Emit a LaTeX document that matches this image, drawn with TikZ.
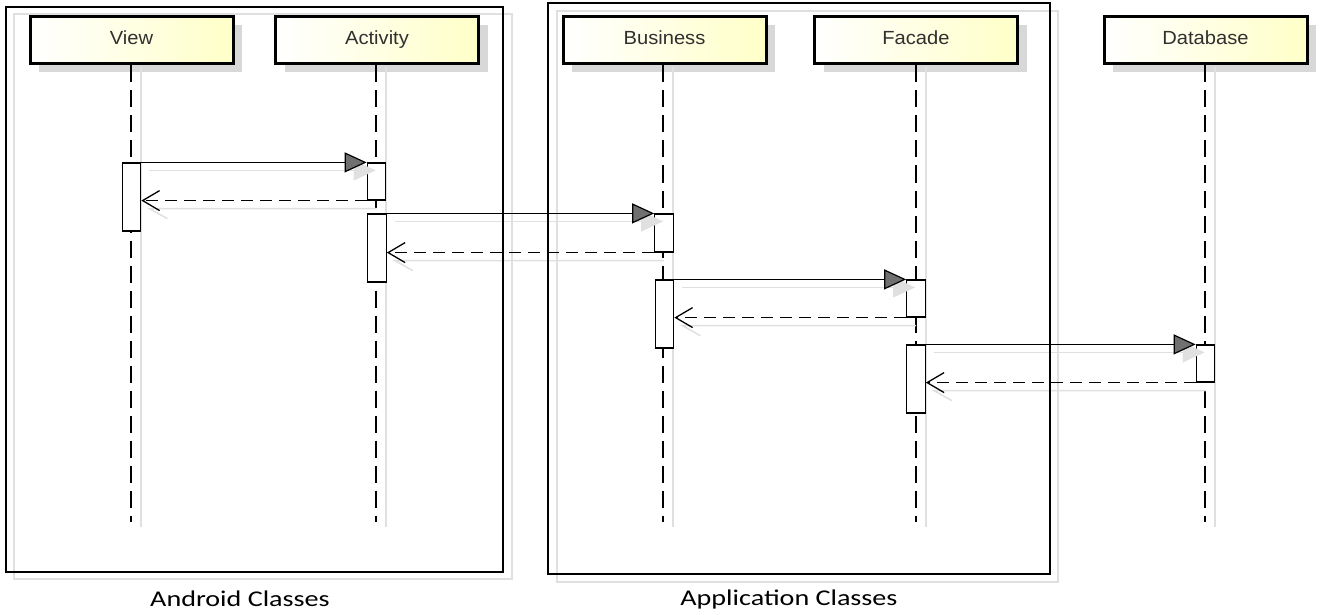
\documentclass[tikz,border=0pt]{standalone}
\usepackage{fontspec}
\newfontfamily\headfont[FakeStretch=1.06]{Liberation Sans}
\newfontfamily\labfont[FakeStretch=1.25]{Carlito}
\usetikzlibrary{arrows.meta,shadows}
\definecolor{headyellow}{RGB}{255,255,200}
\definecolor{textgray}{RGB}{48,48,48}
\definecolor{shgray}{RGB}{224,224,224}
\definecolor{headsh}{RGB}{216,216,216}
\definecolor{tipgray}{RGB}{112,112,112}
\begin{document}
\begin{tikzpicture}[x=1pt,y=-1pt,
  head/.style={draw=black, line width=3pt, minimum width=203pt, minimum height=47pt, inner sep=0pt,
    left color=white, right color=headyellow, text=textgray, text height=14pt, text depth=5pt,
    font=\headfont\fontsize{19}{19}\selectfont,
    drop shadow={shadow xshift=9pt, shadow yshift=-8pt, fill=headsh, opacity=1}},
  life/.style={line width=1.6pt, dash pattern=on 17pt off 8pt},
  lifesh/.style={line width=1.5pt, draw=shgray},
  actbox/.style={draw=black, fill=white, line width=1.2pt, minimum width=18.5pt, inner sep=0pt},
  call/.style={line width=1.3pt, -{Triangle[length=22pt,width=20pt,fill=tipgray,line width=1.2pt]}},
  ret/.style={line width=1.3pt, dash pattern=on 12pt off 7pt, -{Straight Barb[length=17pt,width=20pt,line width=1.3pt]}},
  msgsh/.style={line width=1.5pt, draw=shgray},
  callsh/.style={line width=1.5pt, draw=shgray, -{Triangle[length=22pt,width=20pt,color=shgray,fill=shgray]}},
  frame/.style={draw=black, line width=1.3pt},
  framesh/.style={draw=shgray, line width=1.5pt},
  lab/.style={font=\labfont\fontsize{22.5}{22.5}\selectfont, text=black}
]
\useasboundingbox (0,0) rectangle (1320,615);

% frame shadows
\draw[framesh] (14,14) rectangle (512,579);
\draw[framesh] (557,11) rectangle (1058,582);

% headers
\node[head] (v) at (131.5,40.5) {View};
\node[head] (a) at (377,40.5) {Activity};
\node[head] (b) at (664.5,40.5) {Business};
\node[head] (f) at (916,40.5) {Facade};
\node[head] (d) at (1205.5,40.5) {Database};

% lifeline ends
\coordinate (vend) at (131,522);
\coordinate (aend) at (376,522);
\coordinate (bend) at (663,522);
\coordinate (fend) at (916,522);
\coordinate (dend) at (1205,522);

% lifeline shadows
\foreach \n in {v,a,b,f,d}{
  \draw[lifesh] ([xshift=10pt,yshift=-2pt]\n.south -| \n end) -- ([xshift=10pt,yshift=-5pt]\n end);
}
% lifelines
\foreach \n in {v,a,b,f,d}{
  \draw[life] (\n.south -| \n end) -- (\n end);
}

% activations
\node[actbox, minimum height=68pt] (vact) at (131.5,197) {};
\node[actbox, minimum height=37pt] (aact1) at (376.5,181.5) {};
\node[actbox, minimum height=68pt] (aact2) at (377,248) {};
\node[actbox, minimum height=38pt] (bact1) at (664,233) {};
\node[actbox, minimum height=68pt] (bact2) at (664.5,314) {};
\node[actbox, minimum height=37pt] (fact1) at (916,298.5) {};
\node[actbox, minimum height=68pt] (fact2) at (916,379) {};
\node[actbox, minimum height=37pt] (dact) at (1205.5,363.5) {};

% message shadows
\draw[callsh] ([shift={(8pt,-8pt)}]vact.north east) -- ([shift={(9pt,-8pt)}]aact1.north west);
\draw[msgsh] ([shift={(10pt,-8pt)}]aact1.south west) -- ([shift={(8pt,-8pt)}]aact1.south west -| vact.east) -- ++(18pt,-10pt);
\draw[callsh] ([shift={(8pt,-8pt)}]aact2.north east) -- ([shift={(9pt,-8pt)}]bact1.north west);
\draw[msgsh] ([shift={(10pt,-8pt)}]bact1.south west) -- ([shift={(8pt,-8pt)}]bact1.south west -| aact2.east) -- ++(18pt,-10pt);
\draw[callsh] ([shift={(8pt,-8pt)}]bact2.north east) -- ([shift={(9pt,-8pt)}]fact1.north west);
\draw[msgsh] ([shift={(10pt,-8pt)}]fact1.south west) -- ([shift={(8pt,-8pt)}]fact1.south west -| bact2.east) -- ++(18pt,-10pt);
\draw[callsh] ([shift={(8pt,-8pt)}]fact2.north east) -- ([shift={(9pt,-8pt)}]dact.north west);
\draw[msgsh] ([shift={(10pt,-8pt)}]dact.south west) -- ([shift={(8pt,-8pt)}]dact.south west -| fact2.east) -- ++(18pt,-10pt);

% messages
\draw[call] (vact.north east) -- (aact1.north west);
\draw[ret] (aact1.south west) -- (aact1.south west -| vact.east);
\draw[call] (aact2.north east) -- (bact1.north west);
\draw[ret] (bact1.south west) -- (bact1.south west -| aact2.east);
\draw[call] (bact2.north east) -- (fact1.north west);
\draw[ret] (fact1.south west) -- (fact1.south west -| bact2.east);
\draw[call] (fact2.north east) -- (dact.north west);
\draw[ret] (dact.south west) -- (dact.south west -| fact2.east);

% frames
\draw[frame] (6,7) rectangle (503,572);
\draw[frame] (548,3) rectangle (1050,574);

% labels
\node[lab] (andl) at (240,599) {Android Classes};
\node[lab] (appl) at (789,599) {Application Classes};
\end{tikzpicture}
\end{document}
